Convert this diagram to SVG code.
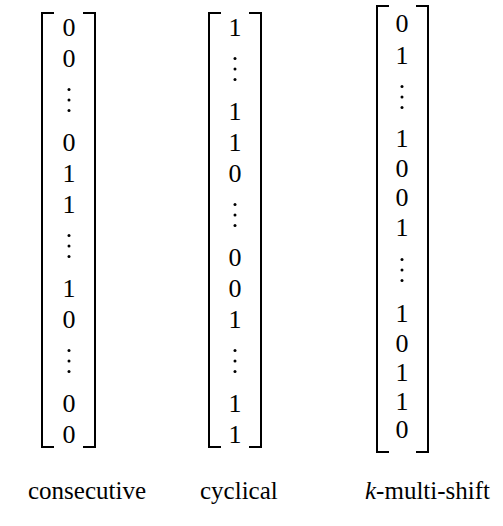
<svg xmlns="http://www.w3.org/2000/svg" width="503" height="526" viewBox="0 0 503 526">
  <style>
    .num { font-family: "Liberation Serif", "Times New Roman", serif; font-size: 26px; fill: #000; text-anchor: middle; }
    .lbl { font-family: "Liberation Serif", "Times New Roman", serif; font-size: 25px; fill: #000; }
    .brk { fill: none; stroke: #000; stroke-width: 2; }
  </style>
  <defs>
    <g id="vdots">
      <circle cx="0" cy="-10.5" r="1.5" fill="#000"/>
      <circle cx="0" cy="0" r="1.5" fill="#000"/>
      <circle cx="0" cy="10.5" r="1.5" fill="#000"/>
    </g>
  </defs>

  <!-- consecutive vector -->
  <g id="consecutive">
    <path class="brk" d="M54,13 H42 V447 H54"/>
    <path class="brk" d="M83,13 H95 V447 H83"/>
    <text class="num" x="69" y="36">0</text>
    <text class="num" x="69" y="67">0</text>
    <use href="#vdots" x="69" y="100"/>
    <text class="num" x="69" y="151">0</text>
    <text class="num" x="69" y="182">1</text>
    <text class="num" x="69" y="213">1</text>
    <use href="#vdots" x="69" y="246"/>
    <text class="num" x="69" y="297">1</text>
    <text class="num" x="69" y="328">0</text>
    <use href="#vdots" x="69" y="361"/>
    <text class="num" x="69" y="412">0</text>
    <text class="num" x="69" y="443">0</text>
    <text class="lbl" x="28" y="499">consecutive</text>
  </g>

  <!-- cyclical vector -->
  <g id="cyclical">
    <path class="brk" d="M221,13 H209 V447 H221"/>
    <path class="brk" d="M249,13 H261 V447 H249"/>
    <text class="num" x="235" y="36">1</text>
    <use href="#vdots" x="235" y="69"/>
    <text class="num" x="235" y="120">1</text>
    <text class="num" x="235" y="151">1</text>
    <text class="num" x="235" y="182">0</text>
    <use href="#vdots" x="235" y="215"/>
    <text class="num" x="235" y="266">0</text>
    <text class="num" x="235" y="297">0</text>
    <text class="num" x="235" y="328">1</text>
    <use href="#vdots" x="235" y="361"/>
    <text class="num" x="235" y="412">1</text>
    <text class="num" x="235" y="443">1</text>
    <text class="lbl" x="200" y="499">cyclical</text>
  </g>

  <!-- k-multi-shift vector -->
  <g id="k-multi-shift">
    <path class="brk" d="M389,6 H377 V452 H389"/>
    <path class="brk" d="M416,6 H428 V452 H416"/>
    <text class="num" x="402" y="32">0</text>
    <text class="num" x="402" y="64">1</text>
    <use href="#vdots" x="402" y="97"/>
    <text class="num" x="402" y="147">1</text>
    <text class="num" x="402" y="177">0</text>
    <text class="num" x="402" y="206">0</text>
    <text class="num" x="402" y="236">1</text>
    <use href="#vdots" x="402" y="270"/>
    <text class="num" x="402" y="322">1</text>
    <text class="num" x="402" y="352">0</text>
    <text class="num" x="402" y="381">1</text>
    <text class="num" x="402" y="410">1</text>
    <text class="num" x="402" y="438">0</text>
    <text class="lbl" x="365" y="499"><tspan font-style="italic">k</tspan>-multi-shift</text>
  </g>
</svg>
